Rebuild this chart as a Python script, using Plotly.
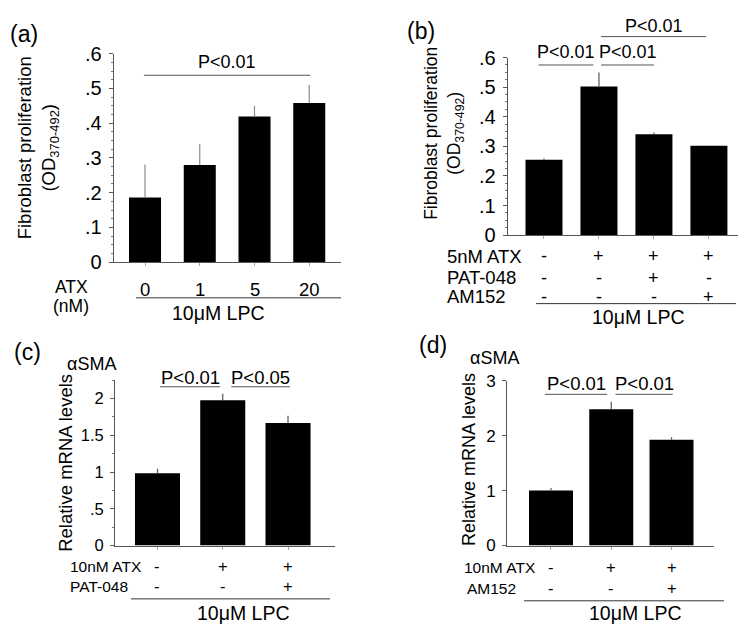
import plotly.graph_objects as go

W, H = 746, 626
FONT = "Liberation Sans, Arial, sans-serif"

# ---------------- data ----------------
a_doses = ["0", "1", "5", "20"]
a_values = [0.186, 0.280, 0.419, 0.458]
a_err = [0.095, 0.060, 0.031, 0.052]

b_atx = ["-", "+", "+", "+"]
b_pat = ["-", "-", "+", "-"]
b_am = ["-", "-", "-", "+"]
b_values = [0.255, 0.502, 0.341, 0.302]
b_err = [0.004, 0.048, 0.006, 0.0]

c_atx = ["-", "+", "+"]
c_pat = ["-", "-", "+"]
c_values = [0.985, 1.978, 1.667]
c_err = [0.060, 0.088, 0.100]

d_atx = ["-", "+", "+"]
d_am = ["-", "-", "+"]
d_values = [1.000, 2.484, 1.927]
d_err = [0.050, 0.136, 0.047]

a_ticks = [0, 0.1, 0.2, 0.3, 0.4, 0.5, 0.6]
a_ticktext = ["0", ".1", ".2", ".3", ".4", ".5", ".6"]
c_ticks = [0, 0.5, 1, 1.5, 2]
c_ticktext = ["0", ".5", "1", "1.5", "2"]
d_ticks = [0, 1, 2, 3]
d_ticktext = ["0", "1", "2", "3"]

# significance brackets: (x0, x1, line y value, text y value, text)
a_sig = [(-0.02, 3.02, 0.538, 0.577, "P<0.01")]
b_sig = [(-0.10, 0.90, 0.575, 0.618, "P<0.01"),
         (1.04, 2.00, 0.575, 0.618, "P<0.01"),
         (1.04, 2.95, 0.671, 0.706, "P<0.01")]
c_sig = [(0.04, 0.96, 2.16, 2.29, "P<0.01"),
         (1.13, 2.03, 2.16, 2.29, "P<0.05")]
d_sig = [(-0.10, 0.93, 2.754, 2.95, "P<0.01"),
         (1.07, 2.02, 2.754, 2.95, "P<0.01")]


def px(x):
    return x / W


def py(y):
    return 1 - y / H


fig = go.Figure()

panels = [
    dict(values=a_values, err=a_err, width=0.585,
         xd=[px(105.7), px(333)], yd=[py(252), py(36)],
         xr=[-0.572, 3.58], yr=[0, 0.6],
         tv=a_ticks, tt=a_ticktext, minor=0.025, tfs=20, errc="#8a8a8a"),
    dict(values=b_values, err=b_err, width=0.673,
         xd=[px(499.7), 1.0], yd=[py(224), py(40)],
         xr=[-0.66, 3.82], yr=[0, 0.6],
         tv=a_ticks, tt=a_ticktext, minor=0.025, tfs=20, errc="#555555"),
    dict(values=c_values, err=c_err, width=0.69,
         xd=[px(107), px(327)], yd=[py(545.7), py(374.3)],
         xr=[-0.651, 2.72], yr=[0, 2.25],
         tv=c_ticks, tt=c_ticktext, minor=0.25, tfs=16.5, errc="#555555"),
    dict(values=d_values, err=d_err, width=0.73,
         xd=[px(499), px(706)], yd=[py(545.7), py(375)],
         xr=[-0.73, 2.705], yr=[0, 3],
         tv=d_ticks, tt=d_ticktext, minor=None, tfs=17, errc="#555555"),
]

layout = dict(
    width=W, height=H, margin=dict(l=0, r=0, t=0, b=0),
    paper_bgcolor="white", plot_bgcolor="white", showlegend=False,
    font=dict(family=FONT, color="black"),
)

annotations = []
shapes = []

for i, p in enumerate(panels):
    n = i + 1
    xs = "" if n == 1 else str(n)
    xref, yref = "x" + xs, "y" + xs
    cats = list(range(len(p["values"])))
    fig.add_trace(go.Bar(
        x=cats, y=p["values"], width=p["width"],
        marker=dict(color="black", line=dict(width=0)),
        error_y=dict(type="data", array=p["err"], arrayminus=[0] * len(cats),
                     symmetric=False, color=p["errc"], thickness=1.2, width=0),
        xaxis=xref, yaxis=yref,
    ))
    xa = dict(domain=p["xd"], range=p["xr"], anchor=yref, showline=True,
              linecolor="#555555", linewidth=1, ticks="outside", ticklen=3,
              tickcolor="#aaaaaa", tickmode="array", tickvals=cats,
              showticklabels=False, showgrid=False, zeroline=False, fixedrange=True)
    ya = dict(domain=p["yd"], range=p["yr"], anchor=xref, showline=True,
              linecolor="#555555", linewidth=1, ticks="outside", ticklen=4,
              tickcolor="#555555", tickmode="array", tickvals=p["tv"],
              ticktext=p["tt"], ticklabelstandoff=3,
              tickfont=dict(size=p["tfs"], family=FONT, color="black"),
              showgrid=False, zeroline=False, fixedrange=True)
    if p["minor"]:
        ya["minor"] = dict(tickmode="linear", tick0=0, dtick=p["minor"],
                           ticks="outside", ticklen=2, tickcolor="#777777")
    layout["xaxis" + xs] = xa
    layout["yaxis" + xs] = ya

sigs = [a_sig, b_sig, c_sig, d_sig]
sig_fs = [18, 18, 18.5, 18.5]
for i, sg in enumerate(sigs):
    n = i + 1
    xs = "" if n == 1 else str(n)
    ymin, ymax = panels[i]["yr"]
    for (x0, x1, yv, ty, txt) in sg:
        yf = (yv - ymin) / (ymax - ymin)
        tf = (ty - ymin) / (ymax - ymin)
        shapes.append(dict(type="line", xref="x" + xs, yref="y" + xs + " domain",
                           x0=x0, x1=x1, y0=yf, y1=yf,
                           line=dict(color="#555555", width=1)))
        annotations.append(dict(xref="x" + xs, yref="y" + xs + " domain",
                                x=(x0 + x1) / 2, y=tf, yanchor="middle",
                                text=txt, showarrow=False,
                                font=dict(size=sig_fs[i], family=FONT)))


def ptext(x, y, text, size, xanchor="center", angle=0):
    annotations.append(dict(xref="paper", yref="paper", x=px(x), y=py(y), text=text,
                            showarrow=False, xanchor=xanchor, yanchor="middle",
                            textangle=angle, borderpad=0,
                            font=dict(size=size, family=FONT)))


def pline(x0, x1, y):
    shapes.append(dict(type="line", xref="paper", yref="paper", x0=px(x0), x1=px(x1),
                       y0=py(y), y1=py(y), line=dict(color="#333333", width=1)))


def row(xref, labels, y, size):
    for k, lab in enumerate(labels):
        annotations.append(dict(xref=xref, yref="paper", x=k, y=py(y), text=lab,
                                showarrow=False, yanchor="middle",
                                font=dict(size=size, family=FONT)))


# panel letters
ptext(16, 16, "(a)", 23)
ptext(413, 12, "(b)", 23)
ptext(19, 345, "(c)", 23)
ptext(425, 338, "(d)", 23)

# y-axis titles
ptext(30, 134, "Fibroblast proliferation<br>(OD<sub>370-492</sub>)", 18.5, angle=-90)
ptext(436, 118, "Fibroblast proliferation<br>(OD<sub>370-492</sub>)", 17.5, angle=-90)
ptext(58, 460, "Relative mRNA levels", 18.5, angle=-90)
ptext(461, 457, "Relative mRNA levels", 18, angle=-90)

# alpha SMA
ptext(83, 358, "αSMA", 18)
ptext(486, 351, "αSMA", 18)

# panel a table
row("x", a_doses, 280, 18.5)
ptext(63, 278, "ATX", 17.5)
ptext(63, 297, "(nM)", 17.5)
pline(128, 333, 289)
ptext(210, 305, "10μM LPC", 19.5)

# panel b table
row("x2", b_atx, 246, 18)
row("x2", b_pat, 268, 18)
row("x2", b_am, 288, 18)
ptext(438, 246, "5nM ATX", 18.5, xanchor="left")
ptext(438, 268, "PAT-048", 18.5, xanchor="left")
ptext(438, 288, "AM152", 18.5, xanchor="left")
pline(528, 728, 295)
ptext(630, 309, "10μM LPC", 19.5)

# panel c table
row("x3", c_atx, 567, 16.5)
row("x3", c_pat, 588, 16.5)
ptext(61, 567, "10nM ATX", 15.5, xanchor="left")
ptext(61, 588, "PAT-048", 15.5, xanchor="left")
pline(123, 322, 601)
ptext(235, 616, "10μM LPC", 19.5)

# panel d table
row("x4", d_atx, 568, 16.5)
row("x4", d_am, 590, 16.5)
ptext(455, 568, "10nM ATX", 15.5, xanchor="left")
ptext(458, 590, "AM152", 15.5, xanchor="left")
pline(516, 716, 603)
ptext(627, 616, "10μM LPC", 19.5)

layout["annotations"] = annotations
layout["shapes"] = shapes
fig.update_layout(**layout)
fig.write_html("out.html")
